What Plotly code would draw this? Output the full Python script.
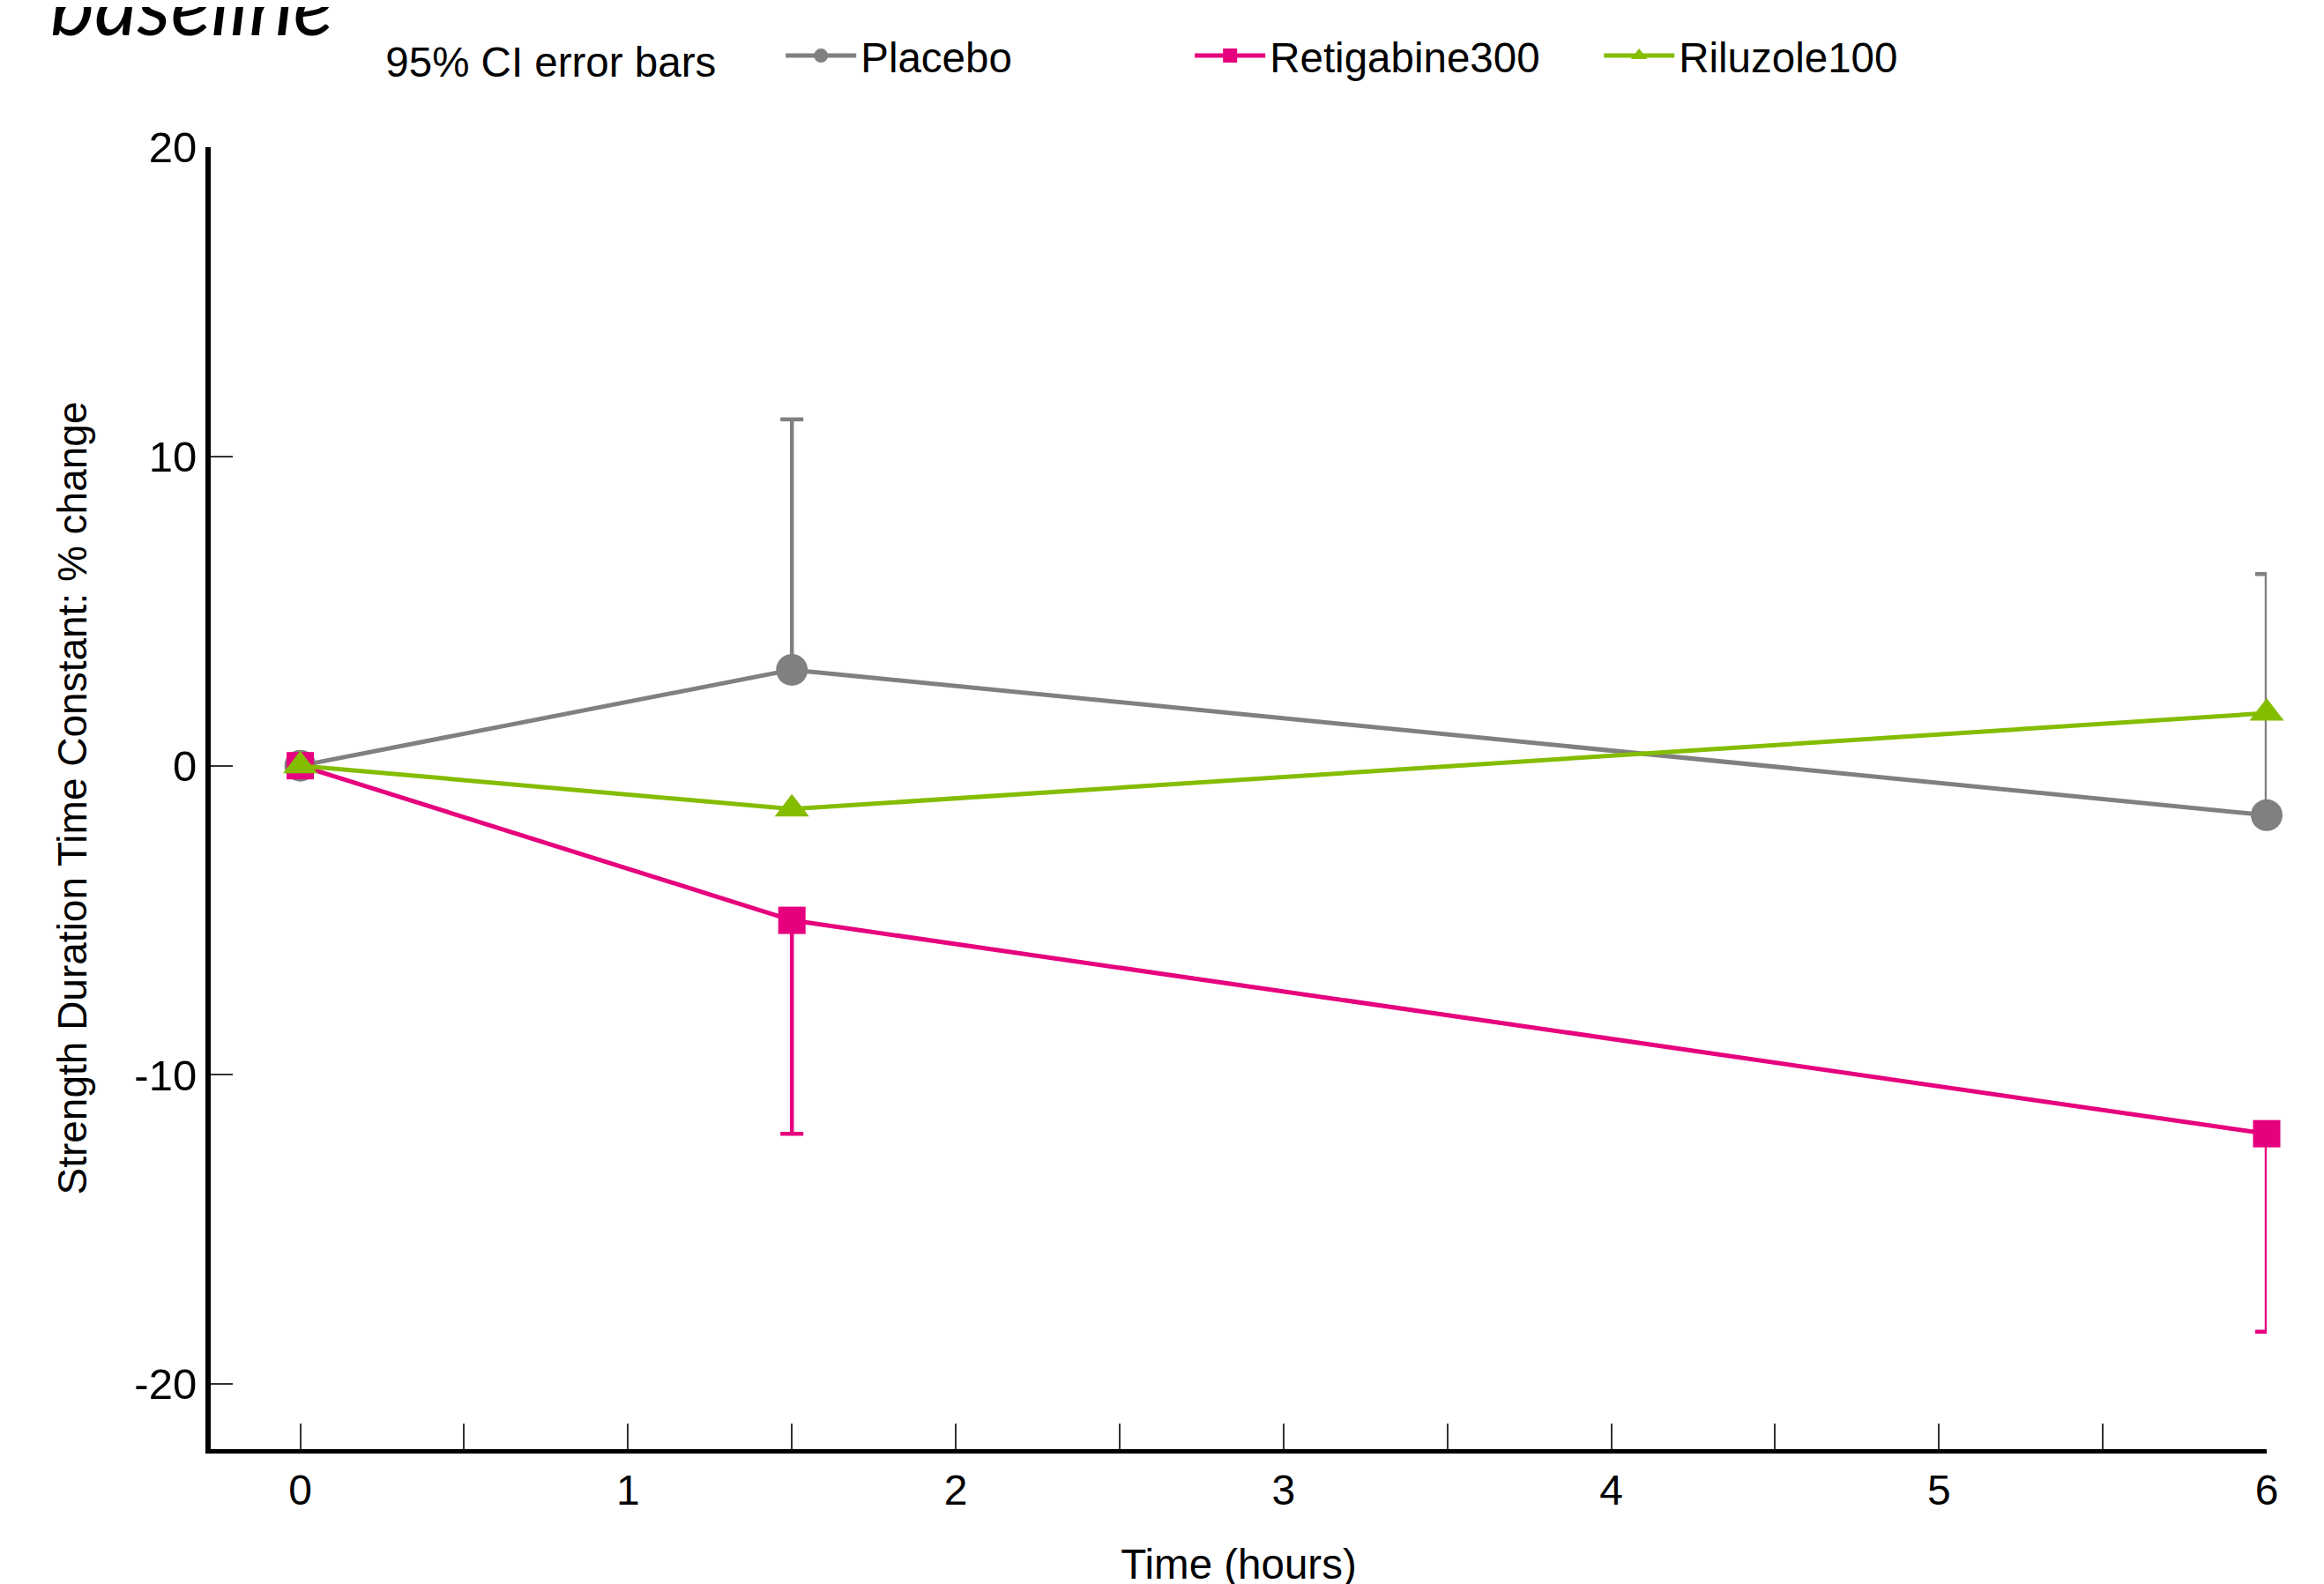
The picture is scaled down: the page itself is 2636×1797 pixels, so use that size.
import plotly.graph_objects as go

# ---- data ----
time_hours = [0, 1.5, 6]

placebo_mean = [0, 3.1, -1.6]
placebo_ci_upper = [0, 11.2, 6.2]

retigabine_mean = [0, -5.0, -11.9]
retigabine_ci_lower = [0, -11.9, -18.3]

riluzole_mean = [0, -1.4, 1.7]

x_tick_vals = [0, 1, 2, 3, 4, 5, 6]
y_tick_vals = [-20, -10, 0, 10, 20]

series_names = ["Placebo", "Retigabine300", "Riluzole100"]
colors = {"Placebo": "#808080", "Retigabine300": "#E6007E", "Riluzole100": "#84BD00"}

FONT = "Liberation Sans, Arial, sans-serif"

placebo_up = [u - m for u, m in zip(placebo_ci_upper, placebo_mean)]
retig_down = [m - l for l, m in zip(retigabine_ci_lower, retigabine_mean)]

fig = go.Figure()

fig.add_trace(go.Scatter(
    x=time_hours, y=placebo_mean, name=series_names[0], mode="lines+markers",
    line=dict(color=colors["Placebo"], width=5),
    marker=dict(symbol="circle", size=36, color=colors["Placebo"]),
    error_y=dict(type="data", symmetric=False, array=placebo_up,
                 arrayminus=[0] * len(placebo_up), color=colors["Placebo"],
                 thickness=4.5, width=13),
    cliponaxis=False,
))
fig.add_trace(go.Scatter(
    x=time_hours, y=retigabine_mean, name=series_names[1], mode="lines+markers",
    line=dict(color=colors["Retigabine300"], width=5),
    marker=dict(symbol="square", size=31, color=colors["Retigabine300"]),
    error_y=dict(type="data", symmetric=False, array=[0] * len(retig_down),
                 arrayminus=retig_down, color=colors["Retigabine300"],
                 thickness=4.5, width=13),
    cliponaxis=False,
))
fig.add_trace(go.Scatter(
    x=time_hours, y=riluzole_mean, name=series_names[2], mode="lines+markers",
    line=dict(color=colors["Riluzole100"], width=5),
    marker=dict(symbol="triangle-up", size=34, color=colors["Riluzole100"]),
    cliponaxis=False,
))

fig.add_annotation(
    text="<i>baseline</i>", xref="paper", yref="paper",
    x=-0.0788, y=1.0713, xanchor="left", yanchor="bottom", showarrow=False,
    font=dict(family="Lato, sans-serif", size=95, color="black"),
)

fig.update_layout(
    width=2636, height=1797,
    margin=dict(l=231, r=73, t=159, b=161),
    paper_bgcolor="white", plot_bgcolor="white",
    font=dict(family=FONT, size=47, color="black"),
    showlegend=True,
    legend=dict(
        orientation="h", x=0.0842, xanchor="left", y=1.0703, yanchor="middle",
        title=dict(text="95% CI error bars" + "\u00a0" * 5, side="left",
                   font=dict(size=47.5)),
        font=dict(size=47.5, color="black"),
        itemwidth=80,
        entrywidth=369, entrywidthmode="pixels",
        bgcolor="rgba(0,0,0,0)",
    ),
    xaxis=dict(
        range=[-0.2733, 6], tickvals=x_tick_vals, ticks="inside", ticklen=29,
        tickwidth=2, tickcolor="#333333", showline=True, linecolor="black",
        linewidth=5, showgrid=False, zeroline=False, automargin=False,
        minor=dict(dtick=0.5, tick0=0, ticks="inside", ticklen=29,
                   tickwidth=2, tickcolor="#333333", showgrid=False),
        tickfont=dict(size=48), ticklabelstandoff=0,
        title=dict(text="Time (hours)", font=dict(size=47.5), standoff=44),
    ),
    yaxis=dict(
        range=[-22.1, 20], tickvals=y_tick_vals,
        ticktext=[str(v) for v in y_tick_vals],
        ticks="inside", ticklen=25,
        tickwidth=2, tickcolor="#333333", showline=True, linecolor="black",
        linewidth=6, showgrid=False, zeroline=False,
        tickfont=dict(size=49), ticklabelstandoff=0,
        title=dict(text="Strength Duration Time Constant: % change",
                   font=dict(size=46), standoff=41),
    ),
)

fig.write_html("out.html")
